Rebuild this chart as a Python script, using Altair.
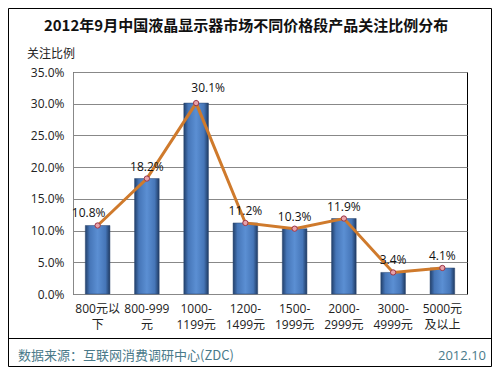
import altair as alt
import pandas as pd

# ---- data ----
categories = ["800元以下", "800-999元", "1000-1199元", "1200-1499元",
              "1500-1999元", "2000-2999元", "3000-4999元", "5000元及以上"]
tick_labels = ["800元以\n下", "800-999\n元", "1000-\n1199元", "1200-\n1499元",
               "1500-\n1999元", "2000-\n2999元", "3000-\n4999元", "5000元\n及以上"]
values = [10.8, 18.2, 30.1, 11.2, 10.3, 11.9, 3.4, 4.1]
y_ticks = [0, 5, 10, 15, 20, 25, 30, 35]

title_text = "2012年9月中国液晶显示器市场不同价格段产品关注比例分布"
y_title = "关注比例"
source_text = "数据来源：互联网消费调研中心(ZDC)"
date_text = "2012.10"

df = pd.DataFrame({"cat": tick_labels, "value": values})

FONT = "Open Sans, Noto Sans CJK SC, sans-serif"
CJK = "Noto Sans CJK SC, sans-serif"

W, H = 394, 222
PL, PT = 65, 64
VW, VH = 484, 359
PR = VW - PL - W
PB = VH - PT - H

x_enc = alt.X("cat:N", sort=None,
              scale=alt.Scale(paddingInner=0.5, paddingOuter=0.25),
              axis=alt.Axis(title=None, labelAngle=0, labelFont=FONT, labelFontSize=12,
                            labelColor="#222", labelExpr="split(datum.label, '\\n')",
                            labelLineHeight=16, labelPadding=9, ticks=False,
                            domainColor="#888", labelBaseline="top"))
y_enc = alt.Y("value:Q", scale=alt.Scale(domain=[0, 35], nice=False),
              axis=alt.Axis(title=None, values=y_ticks, labelExpr="format(datum.value, '.1f') + '%'",
                            labelFont=FONT, labelFontSize=12, labelColor="#222", labelOverlap=False,
                            ticks=False, labelPadding=9, gridColor="#888", gridWidth=1,
                            domainColor="#888"))

base = alt.Chart(df)

bar_grad = alt.Gradient(
    gradient="linear",
    stops=[alt.GradientStop(color="#22406b", offset=0),
           alt.GradientStop(color="#4676b8", offset=0.18),
           alt.GradientStop(color="#5b8fd3", offset=0.5),
           alt.GradientStop(color="#4676b8", offset=0.82),
           alt.GradientStop(color="#1f3a62", offset=1)],
    x1=0, x2=1, y1=0, y2=0)

bars = base.mark_bar(color=bar_grad, stroke="#2a4670", strokeWidth=0.5).encode(x=x_enc, y=y_enc)

line = base.mark_line(color="#cf7a2c", strokeWidth=3).encode(x=x_enc, y=y_enc)
pts = base.mark_point(shape="circle", filled=True, fill="#e9a3aa", stroke="#9a3548",
                      strokeWidth=1, size=28, opacity=1).encode(x=x_enc, y=y_enc)

lab_base = base.transform_calculate(lab="format(datum.value, '.1f') + '%'")
txt_kw = dict(font=FONT, fontSize=12, color="#111", baseline="bottom")
labels_mid = lab_base.transform_filter(
    (alt.datum.cat != tick_labels[0]) & (alt.datum.cat != tick_labels[2])
).mark_text(dy=-5, **txt_kw).encode(x=x_enc, y=y_enc, text="lab:N")
labels_left = lab_base.transform_filter(alt.datum.cat == tick_labels[0]).mark_text(
    dy=-5, dx=-9, **txt_kw).encode(x=x_enc, y=y_enc, text="lab:N")
labels_right = lab_base.transform_filter(alt.datum.cat == tick_labels[2]).mark_text(
    dy=-8, dx=12, **txt_kw).encode(x=x_enc, y=y_enc, text="lab:N")

one = alt.Chart(pd.DataFrame({"title": [title_text], "yt": [y_title],
                              "src": [source_text], "date": [date_text]}))

title = one.mark_text(font=CJK, fontSize=15, fontWeight="bold", color="#111",
                      align="center", baseline="middle").encode(
    x=alt.value(173), y=alt.value(-46), text="title:N")
ytitle = one.mark_text(font=CJK, fontSize=12, color="#222", align="center", baseline="middle").encode(
    x=alt.value(-22), y=alt.value(-18), text="yt:N")
src = one.mark_text(font=CJK, fontSize=13, color="#4a7a8a", align="left", baseline="middle").encode(
    x=alt.value(-55), y=alt.value(284), text="src:N")
date = one.mark_text(font=FONT, fontSize=13, color="#4a7a8a", align="right", baseline="middle").encode(
    x=alt.value(413), y=alt.value(284), text="date:N")
footer_line = one.mark_rule(color="#000", strokeWidth=1).encode(
    x=alt.value(-PL), x2=alt.value(W + PR), y=alt.value(266.5))
frame = one.mark_rect(fill="transparent", stroke="#000", strokeWidth=1).encode(
    x=alt.value(-PL + 0.5), x2=alt.value(W + PR - 0.5), y=alt.value(-PT + 0.5), y2=alt.value(H + PB - 0.5))

chart = alt.layer(bars, line, pts, labels_mid, labels_left, labels_right,
                  title, ytitle, src, date, footer_line, frame).properties(
    width=W, height=H,
    autosize=alt.AutoSizeParams(type="none"),
    padding={"left": PL, "top": PT, "right": PR, "bottom": PB},
    background="white",
).configure_view(stroke="#000", strokeWidth=1)

chart.save("out.html", embed_options={"renderer": "svg", "actions": False})
